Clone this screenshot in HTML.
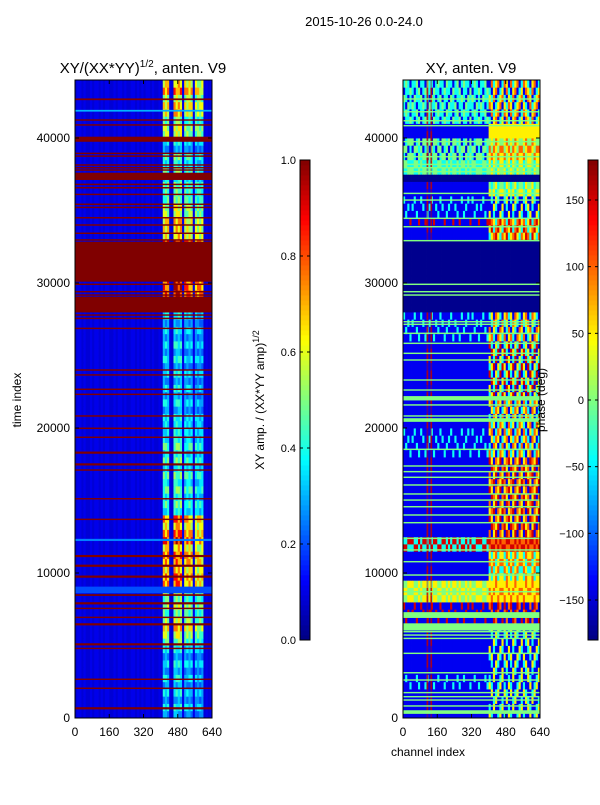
<!DOCTYPE html>
<html><head><meta charset="utf-8"><style>
body{margin:0;background:#fff;}
svg text{font-family:"Liberation Sans","DejaVu Sans",sans-serif;}
</style></head><body>
<svg id="fig" width="600" height="800" xmlns="http://www.w3.org/2000/svg">
<rect width="600" height="800" fill="#fff"/>
<text x="364" y="26" font-size="13" text-anchor="middle">2015-10-26 0.0-24.0</text>
<text x="143" y="73" font-size="15" text-anchor="middle">XY/(XX*YY)<tspan font-size="10" dy="-6">1/2</tspan><tspan dy="6">, anten. V9</tspan></text>
<text x="471" y="73" font-size="15" text-anchor="middle">XY, anten. V9</text>
<g id="left"></g>
<g id="right"></g>
<g id="axes"></g>
<text x="21" y="400" font-size="12" text-anchor="middle" transform="rotate(-90 21 400)">time index</text>
<text x="428" y="756" font-size="12" text-anchor="middle">channel index</text>
<text x="264" y="400" font-size="12" text-anchor="middle" transform="rotate(-90 264 400)">XY amp. / (XX*YY amp)<tspan font-size="9" dy="-5">1/2</tspan></text>
<text x="545" y="400" font-size="12" text-anchor="middle" transform="rotate(-90 545 400)">phase (deg)</text>
</svg>
<script>
// ---- data ----
const timeBin = 500;
const yTicks = [0,10000,20000,30000,40000];
const xTicks = [0,160,320,480,640];
const ampTicks = [0.0,0.2,0.4,0.6,0.8,1.0];
const phaseTicks = [-150,-100,-50,0,50,100,150];
// left: strip level per 500-bin, bottom-up (digit/10)
const leftStripLevels = "3434343434"+"56765656"+"8878879878"+"454545454544"+"4434343434343434"+"9999999999"+"77766"+"555"+"454534"+"66577687";
const stripStarts = [406,458,509,556];
const stripEnds = [444,505,551,598];
const stripGain = [1.0,1.08,0.95,0.88];
const leftBackground = 0.085;
// full-width rows in left panel: time, thickness, value
const leftRowT = [42670,41880,41240,40900,39915,38940,38750,38140,37950,37790,37355,36800,36570,36110,35430,35210,34500,34000,33430,32970,31470,29910,29400,29170,28515,27790,27560,26870,24000,23660,22670,22320,20830,19980,19360,18300,17490,17100,15120,13700,12280,11170,10500,9750,8830,8480,7910,7560,6940,6460,5080,4800,2670,2050,670];
const leftRowH = [120,120,100,100,350,100,100,100,100,100,500,100,100,100,100,100,100,100,100,100,2760,100,100,100,1090,100,100,100,100,100,100,100,100,100,100,150,150,100,100,100,150,150,150,150,460,120,150,100,100,150,150,100,100,100,150];
const leftRowV = [1,0.3,1,1,1,1,1,1,1,1,1,1,1,1,1,1,1,1,1,1,1,1,1,1,1,1,1,1,1,1,1,1,1,1,1,1,1,1,1,1,0.25,1,1,1,0.2,1,1,1,1,1,1,1,1,1,1];
// right: segments
const segStart = [40900,40000,38700,37650,37240,36000,34500,33000,32830,28000,26000,22000,18000,12750,11600,9700,8000,6300,3000,0];
const segEnd   = [44000,40900,40000,38700,37650,37240,36000,34500,33000,32830,28000,26000,22000,18000,12750,11600,9700,8000,6300,3000];
const segLeft  = ["cgbc","b","gcgb","gc","n","b","bbbbbbbc","bbbbbbbr","b","n","bbbbbbbc","b","bbbbbbbc","b","cr","b","gy","bbbbbbbr","b","bbbbbbbc"];
const segRight = ["oycb","y","ogy","gyc","n","ygc","cybb","rocy","o","n","yobc","cybr","ocby","yobr","ro","oyc","yyo","rbbo","cybb","ycbb"];
const phaseCodes = {n:-175,b:-140,c:-40,g:0,y:50,o:100,r:150};
const greenT = [42690,41810,41190,40850,39750,38710,38180,37950,37680,36180,35720,34460,33880,32920,29910,29400,29170,27330,27150,26530,25840,25150,24690,23310,22620,22050,21590,20830,20550,18530,17380,16990,16600,16070,15450,15030,14570,14000,13470,12390,11590,10780,9860,8710,7100,6280,5950,5720,5490,4460,3120,2620,1750,1470,1240,830,410];
const greenH = [100,100,100,100,100,100,100,100,100,100,100,100,100,100,100,100,100,100,100,100,100,100,100,100,100,300,100,100,250,100,100,100,100,100,100,100,100,100,100,100,100,100,100,100,400,500,100,100,100,100,100,100,100,100,100,100,250];
const colPattern = [0,1,1,0,1,0,0,1,0,1,1,0,1,0,1,1,0,0,1,0,1,1,0,1,0,0,1,1,0,1,0,1];
const colPattern2 = [0,2,1,3,1,0,2,3,0,1,3,2,1,0,3,1,2,0,1,3,2,1,0,3,1,2,3,0,2,1,0,3];
// ---- helpers ----
const NS="http://www.w3.org/2000/svg";
const T0=0,T1=44000, PY0=718, PY1=80;
function yOf(t){return PY0-(t-T0)/(T1-T0)*(PY0-PY1);}
function xOfL(c){return 75+c*137/640;}
function xOfR(c){return 403+c*137/640;}
function cl(v){return Math.max(0,Math.min(1,v));}
function jet(x){x=cl(x);const r=cl(1.5-Math.abs(4*x-3)),g=cl(1.5-Math.abs(4*x-2)),b=cl(1.5-Math.abs(4*x-1));return `rgb(${Math.round(r*255)},${Math.round(g*255)},${Math.round(b*255)})`;}
function mk(tag,attrs,parent){const e=document.createElementNS(NS,tag);for(const k in attrs)e.setAttribute(k,attrs[k]);parent.appendChild(e);return e;}
const L=document.getElementById('left'), R=document.getElementById('right'), A=document.getElementById('axes');
const nBins=Math.ceil((T1-T0)/timeBin), colW=10, nCols=64;
// left heatmap
for(let i=0;i<nBins;i++){
  const t0=i*timeBin,t1=Math.min(T1,t0+timeBin);
  const lev=parseInt(leftStripLevels[i]||'5')/10;
  for(let j=0;j<nCols;j++){
    const c0=j*colW,c1=c0+colW,cm=c0+colW/2;
    let v=leftBackground+(colPattern[j%32]?0.02:0);
    for(let s=0;s<stripStarts.length;s++){
      if(cm>=stripStarts[s]&&cm<stripEnds[s]){v=lev*stripGain[s]*(colPattern[(j+i)%32]?1:0.8);}
    }
    const r=mk('rect',{x:xOfL(c0),y:yOf(t1),width:xOfL(c1)-xOfL(c0)+0.4,height:yOf(t0)-yOf(t1)+0.4,fill:jet(v)},L);
    
    
  }
}
for(let k=0;k<leftRowT.length;k++){
  const t=leftRowT[k],h=leftRowH[k];
  const r=mk('rect',{x:xOfL(0),y:yOf(t+h/2),width:xOfL(640)-xOfL(0),height:Math.max(1.2,yOf(t-h/2)-yOf(t+h/2)),fill:leftRowV[k]>=1?'#800000':jet(leftRowV[k])},L);
  
  
}
// right heatmap
for(let i=0;i<nBins;i++){
  const t0=i*timeBin,t1=Math.min(T1,t0+timeBin),tm=(t0+t1)/2;
  let s=0;for(let k=0;k<segStart.length;k++){if(tm>=segStart[k]&&tm<segEnd[k]){s=k;break;}}
  for(let j=0;j<nCols;j++){
    const c0=j*colW,c1=c0+colW,cm=c0+colW/2;
    const code=cm<400?segLeft[s]:segRight[s];
    const ch=code[(colPattern2[j%32]+i)%code.length];
    const ph=phaseCodes[ch];
    const r=mk('rect',{x:xOfR(c0),y:yOf(t1),width:xOfR(c1)-xOfR(c0)+0.4,height:yOf(t0)-yOf(t1)+0.4,fill:jet((ph+180)/360)},R);
    
    
  }
  if(segLeft[s]!=='n'){
    [110,128].forEach(c=>{
      const r=mk('rect',{x:xOfR(c),y:yOf(t1),width:xOfR(c+8)-xOfR(c),height:yOf(t0)-yOf(t1)+0.4,fill:'#c00000',opacity:(i%3)?0.85:0.4},R);
      
      
    });
  }
}
for(let k=0;k<greenT.length;k++){
  const t=greenT[k],h=greenH[k];
  const r=mk('rect',{x:xOfR(0),y:yOf(t+h/2),width:xOfR(640)-xOfR(0),height:Math.max(1.2,yOf(t-h/2)-yOf(t+h/2)),fill:jet(0.5)},R);
  
  
}
// axes
function axes(x0,name){
  const fr=mk('rect',{x:x0,y:PY1,width:137,height:PY0-PY1,fill:'none',stroke:'#000','stroke-width':1},A);
  
  
  yTicks.forEach(t=>{const y=yOf(t);
    mk('line',{x1:x0,x2:x0+4,y1:y,y2:y,stroke:'#000'},A);mk('line',{x1:x0+137,x2:x0+133,y1:y,y2:y,stroke:'#000'},A);
    const tx=mk('text',{x:x0-5,y:y+4,'font-size':12,'text-anchor':'end'},A);tx.textContent=t;
    
    });
  xTicks.forEach(c=>{const x=x0+c*137/640;
    mk('line',{x1:x,x2:x,y1:PY0,y2:PY0-4,stroke:'#000'},A);mk('line',{x1:x,x2:x,y1:PY1,y2:PY1+4,stroke:'#000'},A);
    const tx=mk('text',{x:x,y:PY0+18,'font-size':12,'text-anchor':'middle'},A);tx.textContent=c;
    
    });
}
axes(75,'left-axes');axes(403,'right-axes');
// colorbars
function cbar(x0,ticks,vmin,vmax,name,fmt){
  const g=mk('g',{},A);
  
  
  const y0=640,y1=160,n=96;
  for(let k=0;k<n;k++){mk('rect',{x:x0,y:y0-(k+1)*(y0-y1)/n,width:10,height:(y0-y1)/n+0.4,fill:jet((k+0.5)/n)},g);}
  mk('rect',{x:x0,y:y1,width:10,height:y0-y1,fill:'none',stroke:'#000'},g);
  ticks.forEach(v=>{const y=y0-(v-vmin)/(vmax-vmin)*(y0-y1);
    mk('line',{x1:x0,x2:x0+3,y1:y,y2:y,stroke:'#000'},g);mk('line',{x1:x0+10,x2:x0+7,y1:y,y2:y,stroke:'#000'},g);
    const tx=mk('text',{x:x0-4,y:y+4,'font-size':11,'text-anchor':'end'},g);tx.textContent=fmt(v);
    
    });
}
cbar(300,ampTicks,0,1,'amp-colorbar',v=>v.toFixed(1));
cbar(588,phaseTicks,-180,180,'phase-colorbar',v=>v<0?'\u2212'+(-v):String(v));
</script>
</body></html>
